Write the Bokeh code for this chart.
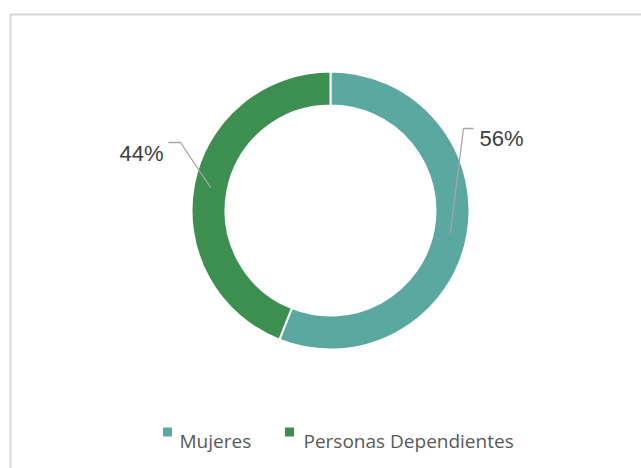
import numpy as np
from bokeh.plotting import figure
from bokeh.models import Range1d, ColumnDataSource
from bokeh.core.properties import value
from bokeh.embed import file_html
from bokeh.resources import INLINE

# ---- data ----
categories = ["Mujeres", "Personas Dependientes"]
shares = [56, 44]
labels = ["56%", "44%"]
colors = ["#5ba8a0", "#3d8f50"]

# ---- layout (page pixel based) ----
W, H = 641, 468
X0, Y0 = 0, 0  # page offset of the figure


def px(x):
    return x


def py(y):
    return (Y0 + H) - y


cx, cy = px(330), py(210)
r_in, r_out = 105, 139
r_mid = (r_in + r_out) / 2

p = figure(width=W, height=H, output_backend="svg", toolbar_location=None,
           x_range=Range1d(X0, X0 + W), y_range=Range1d(0, H),
           min_border=0, outline_line_color=None,
           background_fill_color="white", border_fill_color="white")
p.axis.visible = False
p.grid.visible = False

# border (top & left only, as in the cropped reference)
p.line([px(10), px(641)], [py(14), py(14)], line_color="#d6d6d6", line_width=2)
p.line([px(10), px(10)], [py(14), py(468)], line_color="#d6d6d6", line_width=2)

# donut
vals = np.array(shares, dtype=float)
frac = vals / vals.sum()
cum = np.cumsum(frac)
prev = cum - frac
start = np.pi / 2 - 2 * np.pi * prev
end = np.pi / 2 - 2 * np.pi * cum
mid = (start + end) / 2

src = ColumnDataSource(dict(start=start, end=end, color=colors, cat=categories))
p.annular_wedge(x=cx, y=cy, inner_radius=r_in, outer_radius=r_out,
                start_angle="start", end_angle="end", direction="clock",
                fill_color="color", line_color="white", line_width=2, source=src)

# leader lines and labels (offsets relative to donut centre, pixels)
end_off = [(143, 82), (-162, 68)]
elbow_dx = [-10, 12]
text_dx = [6, -5]
text_align = ["left", "right"]
text_base_dy = [-10, -11]

for i in range(len(shares)):
    sx = cx + r_mid * np.cos(mid[i])
    sy = cy + r_mid * np.sin(mid[i])
    ex = cx + end_off[i][0]
    ey = cy + end_off[i][1]
    bx = ex + elbow_dx[i]
    p.line([sx, bx, ex], [sy, ey, ey], line_color="#a6a6a6", line_width=1.3)
    p.text(x=[ex + text_dx[i]], y=[ey + text_base_dy[i]], text=[labels[i]],
           text_font=value("Liberation Sans"), text_font_size="22px",
           text_color="#404040", text_align=text_align[i],
           text_baseline="alphabetic")

# legend (manual, horizontal)
leg_sq_x = [px(167), px(289)]
leg_txt_x = [px(179), px(303)]
leg_y = py(431.5)
leg_base = py(440)
p.rect(x=leg_sq_x, y=[leg_y] * 2, width=9, height=9, fill_color=colors,
       line_color=None)
p.text(x=leg_txt_x, y=[leg_base] * 2, text=categories,
       text_font=value("Open Sans"), text_font_size="19px",
       text_color="#595959", text_align="left", text_baseline="alphabetic")

open("out.html", "w").write(file_html(p, INLINE))
